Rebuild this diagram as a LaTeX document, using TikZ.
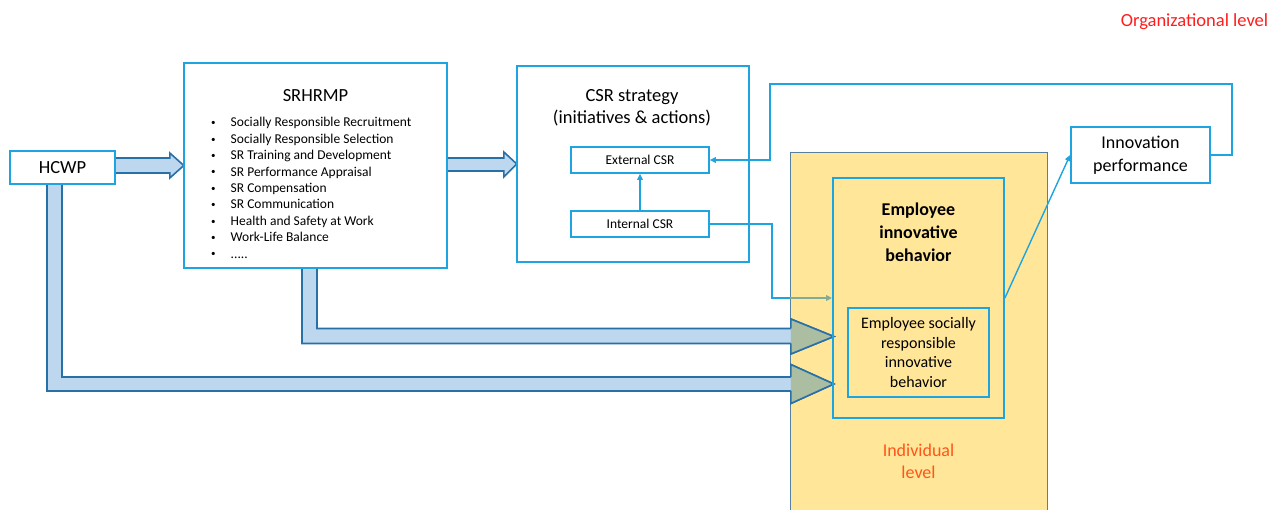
\documentclass[tikz,border=0pt]{standalone}
\usepackage{fontspec}
\setmainfont{Carlito}
\usetikzlibrary{arrows.meta,calc}
\definecolor{boxblue}{RGB}{30,165,225}
\definecolor{arrowline}{RGB}{40,112,168}
\definecolor{arrowfill}{RGB}{189,215,238}
\definecolor{headfill}{RGB}{172,190,162}
\definecolor{greyline}{RGB}{130,172,150}
\definecolor{yel}{RGB}{255,230,153}
\definecolor{yelborder}{RGB}{85,128,160}
\definecolor{orgred}{RGB}{255,30,30}
\definecolor{indred}{RGB}{255,85,25}
\newcommand\mylistdots{.....}
\newcommand\mybullet{\makebox[21pt][l]{\hspace{1.5pt}\raisebox{1.2pt}{\fontsize{9}{9}\selectfont •}}}
\tikzset{
  bluebox/.style={draw=boxblue, line width=1.8pt, inner sep=0pt, align=center},
  smallbox/.style={bluebox, line width=1.6pt, fill=white, minimum width=138pt, minimum height=26pt, font=\fontsize{13.5}{16}\selectfont},
  conn/.style={draw=boxblue, line width=1.4pt, -{Triangle[length=6pt,width=5.5pt]}},
  blockarrow/.style={draw=arrowline, fill=arrowfill, line width=1.6pt, line join=miter},
  blockhead/.style={draw=arrowline, fill=headfill, line width=1.6pt, line join=miter},
  bigtext/.style={inner sep=0pt, align=center, font=\fontsize{18.5}{22}\selectfont},
  bullettext/.style={anchor=base west, inner sep=0pt, font=\fontsize{13.5}{16}\selectfont}
}
\begin{document}
\begin{tikzpicture}[x=1pt,y=-1pt]
\useasboundingbox (0,0) rectangle (1280,510);
\clip (0,0) rectangle (1280,510);
\fill[white] (0,0) rectangle (1280,510);

% individual level area
\node[draw=yelborder, fill=yel, line width=0.9pt, minimum width=257pt, minimum height=370pt, inner sep=0pt] (indiv) at (918.5,337) {};

% frame positions needed for the block arrows
\node[minimum width=171pt, minimum height=240pt, inner sep=0pt] (eib) at (918.5,298) {};
\node[minimum width=105pt, minimum height=33pt, inner sep=0pt] (hcwp0) at (62.5,167.5) {};
\node[minimum width=263pt, minimum height=205pt, inner sep=0pt] (srhrmp0) at (315.5,165.5) {};
\node[minimum width=232pt, minimum height=196pt, inner sep=0pt] (csr0) at (633,164) {};

% block arrows
\draw[blockarrow] ($(hcwp0.east)+(-2,-9.5)$) -- ($(srhrmp0.west)+(-14,-7.5)$) -- ($(srhrmp0.west)+(-14,-12.5)$) -- (srhrmp0.west) -- ($(srhrmp0.west)+(-14,12.5)$) -- ($(srhrmp0.west)+(-14,7.5)$) -- ($(hcwp0.east)+(-2,5.5)$) -- cycle;
\draw[blockarrow] ($(srhrmp0.east)+(-2,-7.5)$) -- ($(csr0.west)+(-13,-6)$) -- ($(csr0.west)+(-13,-12)$) -- (csr0.west) -- ($(csr0.west)+(-13,13)$) -- ($(csr0.west)+(-13,7)$) -- ($(srhrmp0.east)+(-2,5.5)$) -- cycle;

\coordinate (T1) at ($(eib.west)+(1,38.5)$);
\draw[blockarrow] ($(srhrmp0.south)+(-13.5,-2)$) |- ($(T1)+(-43,7)$) -- ($(T1)+(-43,17.5)$) -- (T1) -- ($(T1)+(-43,-17.5)$) -- ($(T1)+(-43,-8)$) -| ($(srhrmp0.south)+(1.5,-2)$) -- cycle;
\filldraw[blockhead] ($(T1)+(-43,7)$) -- ($(T1)+(-43,17.5)$) -- (T1) -- ($(T1)+(-43,-17.5)$) -- ($(T1)+(-43,-8)$);

\coordinate (T2) at ($(eib.west)+(1,86)$);
\draw[blockarrow] ($(hcwp0.south)+(-15.5,-2)$) |- ($(T2)+(-43,7)$) -- ($(T2)+(-43,19.5)$) -- (T2) -- ($(T2)+(-43,-19.5)$) -- ($(T2)+(-43,-7)$) -| ($(hcwp0.south)+(-0.5,-2)$) -- cycle;
\filldraw[blockhead] ($(T2)+(-43,7)$) -- ($(T2)+(-43,19.5)$) -- (T2) -- ($(T2)+(-43,-19.5)$) -- ($(T2)+(-43,-7)$);

% main boxes
\node[bluebox, fill=white, minimum width=105pt, minimum height=33pt, font=\fontsize{18.5}{22}\selectfont] (hcwp) at (62.5,167.5) {HCWP};
\node[bluebox, fill=white, minimum width=263pt, minimum height=205pt] (srhrmp) at (315.5,165.5) {};
\node[bigtext] (srtitle) at (315.5,95.5) {SRHRMP};
\foreach \t [count=\i from 0] in {Socially Responsible Recruitment, Socially Responsible Selection, SR Training and Development, SR Performance Appraisal, SR Compensation, SR Communication, Health and Safety at Work, Work-Life Balance, \mylistdots}
  \node[bullettext] (b\i) at (209.5,{127+16.4*\i}) {\mybullet\t};

\node[bluebox, fill=white, minimum width=232pt, minimum height=196pt] (csr) at (633,164) {};
\node[bigtext] (csrtitle) at (632,107.5) {CSR strategy\\(initiatives \& actions)};
\node[smallbox] (ext) at (640,160) {External CSR};
\node[smallbox] (int) at (640,224) {Internal CSR};

\node[bluebox, minimum width=171pt, minimum height=240pt] (eib2) at (918.5,298) {};
\node[inner sep=0pt, align=center, font=\fontsize{18}{23}\selectfont\bfseries] (eibtitle) at (918.5,232) {Employee\\innovative\\behavior};
\node[bluebox, minimum width=141pt, minimum height=89pt, font=\fontsize{16}{19.5}\selectfont] (esrib) at (918.5,352.5) {Employee socially\\responsible\\innovative\\behavior};

\node[bluebox, fill=white, minimum width=139pt, minimum height=56pt, font=\fontsize{18}{23}\selectfont] (innov) at (1140.5,155) {Innovation\\performance};

\node[inner sep=0pt, align=center, text=indred, font=\fontsize{18}{22}\selectfont] (indtext) at (918.5,461.5) {Individual\\level};
\node[inner sep=0pt, text=orgred, font=\fontsize{18.5}{22}\selectfont] (orgtext) at (1194.5,21.5) {Organizational level};

% thin connectors
\draw[conn] (int.north) -- (ext.south);
\coordinate (k1) at (772,298);
\draw[draw=boxblue, line width=1.4pt] (int.east) -| (k1) -- (k1 -| indiv.west);
\draw[conn, draw=greyline] (k1 -| indiv.west) -- (k1 -| eib2.west);
\coordinate (k2) at (1232,84);
\coordinate (k3) at (770,84);
\draw[conn] (innov.east) -| (k2) -- (k3) |- (ext.east);
\draw[conn] (eib2.east) -- (innov.west);
\end{tikzpicture}
\end{document}
